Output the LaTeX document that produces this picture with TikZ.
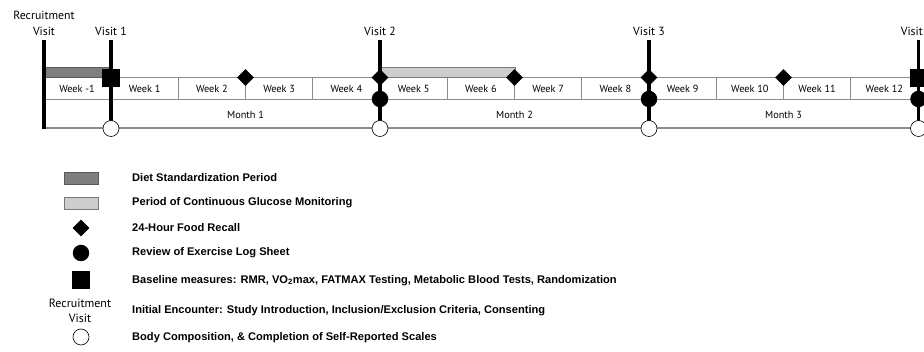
\documentclass[tikz,border=0pt]{standalone}
\usepackage{fontspec}
\newfontfamily\labfont{PT Sans}
\newfontfamily\legfont{Liberation Sans}
\usetikzlibrary{shapes.geometric}
\definecolor{gridgray}{HTML}{8C8C8C}
\definecolor{dietfill}{HTML}{7F7F7F}
\definecolor{dietedge}{HTML}{5A5A5A}
\definecolor{cgmfill}{HTML}{CDCDCD}
\definecolor{cgmedge}{HTML}{7A7A7A}
\begin{document}
\begin{tikzpicture}[x=1pt,y=-1pt,
  gridline/.style={draw=gridgray,line width=0.9pt},
  basegrid/.style={draw=gridgray,line width=1.8pt},
  lbl/.style={font=\labfont\fontsize{10.3}{11}\selectfont,inner sep=0pt},
  toplbl/.style={font=\labfont\fontsize{11.8}{16}\selectfont,inner sep=0pt,align=center},
  legtxt/.style={font=\legfont\bfseries\fontsize{11.1}{13}\selectfont,inner sep=0pt,anchor=west},
  vline/.style={line width=3.6pt},
  diam/.style={diamond,fill=black,inner sep=0pt,minimum size=17pt},
  dot/.style={circle,fill=black,inner sep=0pt,minimum size=16.5pt},
  ocirc/.style={circle,draw=black,fill=white,line width=0.6pt,inner sep=0pt,minimum size=16pt},
  sq/.style={rectangle,fill=black,inner sep=0pt,minimum size=17.5pt},
  dietbar/.style={fill=dietfill,draw=dietedge,line width=0.8pt},
  cgmbar/.style={fill=cgmfill,draw=cgmedge,line width=0.8pt}
]
\useasboundingbox (0,0) rectangle (924,352);
\clip (0,0) rectangle (924,352);

% ---- grid of weeks and months
\draw[gridline] (43,77) -- (930,77);
\draw[gridline] (43,99.5) -- (930,99.5);
\draw[basegrid] (43,128) -- (930,128);
\foreach \k in {0,...,12} {
  \draw[gridline] ({111+67.25*\k},77) -- ({111+67.25*\k},99.5);
}
\node[lbl] (wm1) at (77,88.5) {Week -1};
\foreach \k in {1,...,12} {
  \node[lbl] (w\k) at ({111+67.25*(\k-0.5)},88.5) {Week \k};
}
\node[lbl] (m1) at (245.5,114.5) {Month 1};
\node[lbl] (m2) at (514.5,114.5) {Month 2};
\node[lbl] (m3) at (783.5,114.5) {Month 3};

% ---- bars
\path[dietbar] (44,67) rectangle (111,77);
\path[cgmbar] (380,67) rectangle (515,77);

% ---- visit lines and labels
\coordinate (r0) at (44,40);   \coordinate (r1) at (44,129.5);
\coordinate (v1t) at (111,40); \coordinate (v1b) at (111,128);
\coordinate (v2t) at (380,40); \coordinate (v2b) at (380,128);
\coordinate (v3t) at (649,40); \coordinate (v3b) at (649,128);
\coordinate (v4t) at (918.5,40); \coordinate (v4b) at (918.5,128);
\draw[vline] (r0) -- (r1);
\draw[vline] (v1t) -- (v1b);
\draw[vline] (v2t) -- (v2b);
\draw[vline] (v3t) -- (v3b);
\draw[vline] (v4t) -- (v4b);

\node[toplbl] (recl) at (44,23) {Recruitment\\Visit};
\node[toplbl] (v1l) at (111,31) {Visit 1};
\node[toplbl] (v2l) at (380,31) {Visit 2};
\node[toplbl] (v3l) at (649,31) {Visit 3};
\node[toplbl,anchor=east] (v4l) at (923,31) {Visit};

% ---- markers
\node[sq] (s1) at (111,78) {};
\node[sq] (s4) at (918.5,78) {};
\node[diam] (d1) at (245.5,77.5) {};
\node[diam] (d2) at (380,77.5) {};
\node[diam] (d3) at (514.5,77.5) {};
\node[diam] (d4) at (649,77.5) {};
\node[diam] (d5) at (783.5,77.5) {};
\node[dot] (c2) at (380,99) {};
\node[dot] (c3) at (649,99) {};
\node[dot] (c4) at (918.5,99) {};
\node[ocirc] (o1) at (111,128.5) {};
\node[ocirc] (o2) at (380,128.5) {};
\node[ocirc] (o3) at (649,128.5) {};
\node[ocirc] (o4) at (918.5,128.5) {};

% ---- legend
\path[dietbar] (64,172.5) rectangle (98,184);
\path[cgmbar] (64,197.5) rectangle (98,209);
\node[diam] (ld) at (81,228) {};
\node[dot] (lc) at (81,253) {};
\node[sq,minimum size=18pt] (ls) at (81,280) {};
\node[toplbl,font=\labfont\fontsize{12}{15}\selectfont] (lr) at (80,310.5) {Recruitment\\Visit};
\node[ocirc] (lo) at (81,337) {};

\node[legtxt] (t1) at (132,178) {Diet Standardization Period};
\node[legtxt] (t2) at (132,203) {Period of Continuous Glucose Monitoring};
\node[legtxt] (t3) at (132,228) {24-Hour Food Recall};
\node[legtxt] (t4) at (132,253) {Review of Exercise Log Sheet};
\node[legtxt] (t5) at (132,280.5) {Baseline measures: RMR, VO\textsubscript{2}max, FATMAX Testing, Metabolic Blood Tests, Randomization};
\node[legtxt] (t6) at (132,311) {Initial Encounter: Study Introduction, Inclusion/Exclusion Criteria, Consenting};
\node[legtxt] (t7) at (132,338) {Body Composition, \& Completion of Self-Reported Scales};
\end{tikzpicture}
\end{document}
